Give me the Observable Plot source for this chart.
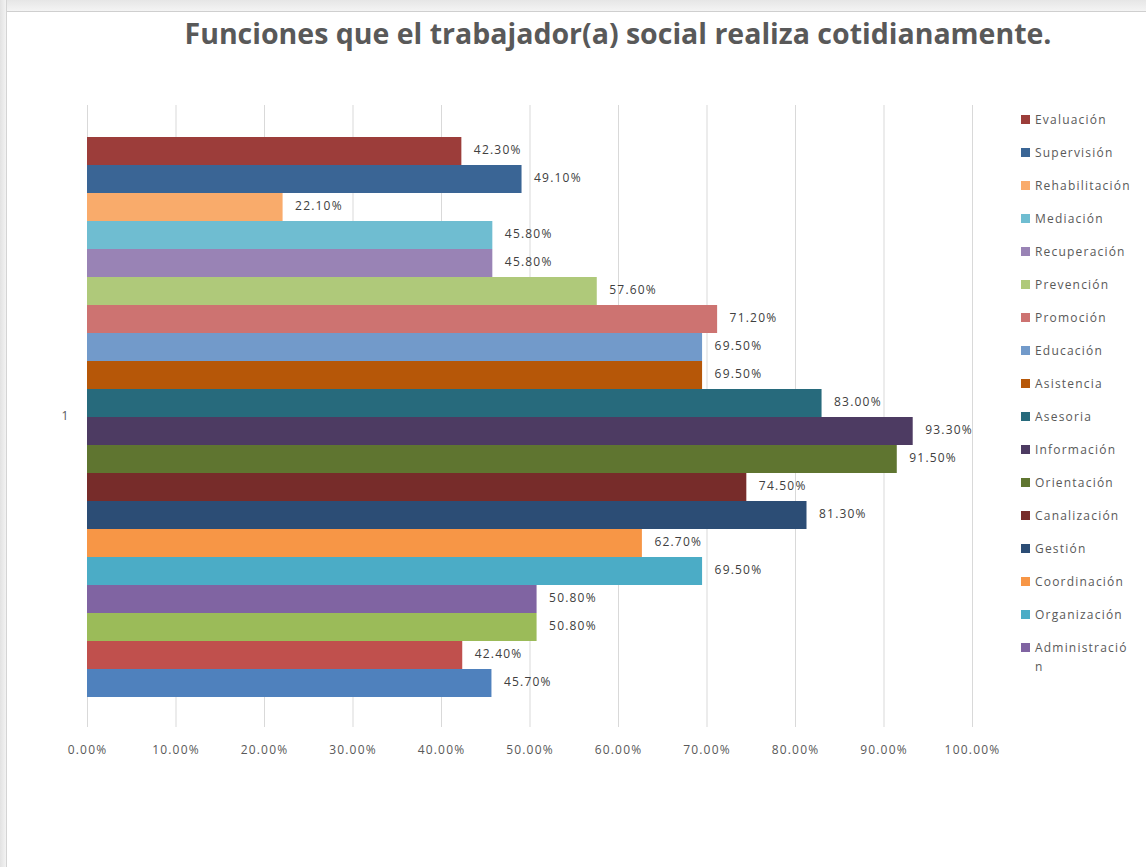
<!DOCTYPE html>
<html>
<head>
<meta charset="utf-8">
<script src="https://cdn.jsdelivr.net/npm/d3@7"></script>
<script src="https://cdn.jsdelivr.net/npm/@observablehq/plot@0.6"></script>
<style>
  html, body { margin: 0; padding: 0; background: #fff; }
  #wrap { position: relative; width: 1146px; height: 867px; overflow: hidden; background: #fff; font-family: "Open Sans", sans-serif; }
  #topstrip { position: absolute; left: 0; top: 0; width: 1146px; height: 11px; background: linear-gradient(#e6e6e6, #f4f4f4); border-bottom: 1px solid #cfcfcf; }
  #leftstrip { position: absolute; left: 0; top: 0; width: 6px; height: 867px; background: linear-gradient(90deg, #e2e2e2, #f3f3f3); border-right: 1px solid #d4d4d4; }
  #title { position: absolute; left: 0; width: 1236px; top: 13px; text-align: center; font-weight: 700; font-size: 28.5px; line-height: 40px; color: #595959; white-space: nowrap; }
  #chart { position: absolute; left: 0; top: 0; }
  .lg { position: absolute; left: 1021px; display: flex; align-items: flex-start; font-size: 12px; line-height: 19px; color: #595959; letter-spacing: 1.2px; }
  .lg .sw { width: 9px; height: 9px; margin-top: 5px; margin-right: 5px; flex: none; }
  .lg .tx { width: 98px; overflow-wrap: anywhere; word-break: break-all; }
</style>
</head>
<body>
<div id="wrap">
  <div id="topstrip"></div>
  <div id="leftstrip"></div>
  <div id="chart"></div>
  <div id="title">Funciones que el trabajador(a) social realiza cotidianamente.</div>
</div>
<script>
// Series, top to bottom as drawn
const series = [
  "Evaluación", "Supervisión", "Rehabilitación", "Mediación", "Recuperación",
  "Prevención", "Promoción", "Educación", "Asistencia", "Asesoria",
  "Información", "Orientación", "Canalización", "Gestión", "Coordinación",
  "Organización", "Administración", "Serie 3", "Serie 2", "Serie 1"
];
const values = [
  0.423, 0.491, 0.221, 0.458, 0.458,
  0.576, 0.712, 0.695, 0.695, 0.830,
  0.933, 0.915, 0.745, 0.813, 0.627,
  0.695, 0.508, 0.508, 0.424, 0.457
];
const colors = [
  "#9C3D3A", "#3A6595", "#F9AB6B", "#6FBDD1", "#9983B5",
  "#AFC97A", "#CD7371", "#729ACA", "#B65708", "#276A7C",
  "#4D3B62", "#5F7530", "#772C2A", "#2C4D75", "#F79646",
  "#4BACC6", "#8064A2", "#9BBB59", "#C0504D", "#4F81BD"
];
// Series shown in the legend (the last three are cut off in the original)
const legendSeries = series.slice(0, 17);
const categoryLabels = ["1"];
const xTicks = [0, 0.1, 0.2, 0.3, 0.4, 0.5, 0.6, 0.7, 0.8, 0.9, 1.0];

const data = series.map((name, i) => ({name, value: values[i]}));
const pct = d => (d * 100).toFixed(2) + "%";

const chart = Plot.plot({
  width: 1146,
  height: 867,
  marginLeft: 87,
  marginRight: 174,
  marginTop: 105,
  marginBottom: 140,
  style: {fontFamily: "Open Sans", fontSize: "12px", letterSpacing: "1.2px", background: "transparent", overflow: "visible"},
  x: {domain: [0, 1]},
  y: {domain: series, range: [133, 701], padding: 0, axis: null},
  color: {domain: series, range: colors},
  marks: [
    Plot.ruleX(xTicks, {stroke: "#d9d9d9", strokeWidth: 1}),
    Plot.barX(data, {x: "value", y: "name", fill: "name"}),
    Plot.text(data, {x: "value", y: "name", text: d => pct(d.value), dx: 12, dy: -1.5, textAnchor: "start", fill: "#404040", fontSize: 12}),
    Plot.text(categoryLabels, {frameAnchor: "left", dx: -18, textAnchor: "end", fill: "#595959", fontSize: 12}),
    Plot.axisX(xTicks, {tickSize: 0, tickPadding: 18, tickFormat: pct, fill: "#595959", fontSize: 12, label: null})
  ]
});
document.getElementById("chart").appendChild(chart);

// Legend
const wrap = document.getElementById("wrap");
legendSeries.forEach((name, i) => {
  const item = document.createElement("div");
  item.className = "lg";
  item.style.top = (119 + i * 33 - 9.5) + "px";
  const sw = document.createElement("div");
  sw.className = "sw";
  sw.style.background = colors[series.indexOf(name)];
  const tx = document.createElement("div");
  tx.className = "tx";
  tx.textContent = name;
  item.appendChild(sw);
  item.appendChild(tx);
  wrap.appendChild(item);
});
</script>
</body>
</html>
